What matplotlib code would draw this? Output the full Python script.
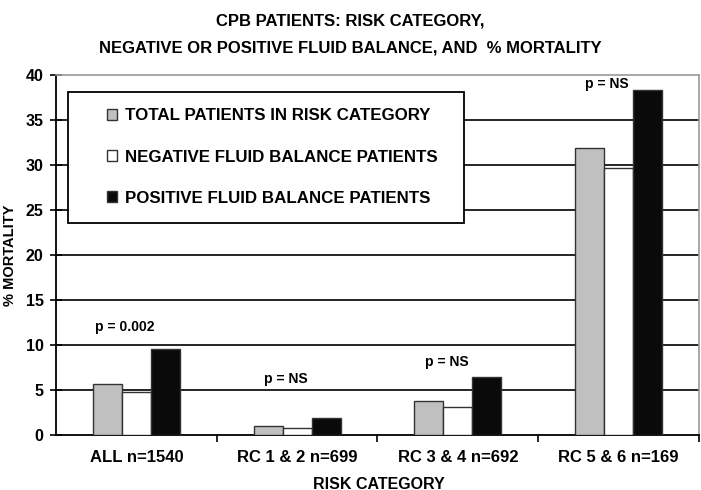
import numpy as np
import matplotlib as mp
mp.use('Agg')
import matplotlib.pyplot as plt
from matplotlib.patches import Rectangle

plt.rcParams['font.family'] = ['Liberation Sans', 'DejaVu Sans']
plt.rcParams['font.weight'] = 'bold'

categories = ['ALL n=1540', 'RC 1 & 2 n=699', 'RC 3 & 4 n=692', 'RC 5 & 6 n=169']
total_pts = [5.7, 1.05, 3.8, 31.9]
neg_fluid = [4.8, 0.8, 3.1, 29.7]
pos_fluid = [9.6, 1.85, 6.4, 38.3]
p_labels = ['p = 0.002', 'p = NS', 'p = NS', 'p = NS']
p_y = [12.0, 6.2, 8.1, 39.0]
series_names = ['TOTAL PATIENTS IN RISK CATEGORY',
                'NEGATIVE FLUID BALANCE PATIENTS',
                'POSITIVE FLUID BALANCE PATIENTS']

fig = plt.figure(figsize=(7.01, 4.90), dpi=100)
ax = fig.add_axes([0.080, 0.112, 0.917, 0.735])

x = np.arange(len(categories)) + 0.5
w = 0.18
edge = '#333333'
b1 = ax.bar(x - w, total_pts, w, color='#c0c0c0', edgecolor=edge, lw=1.0, zorder=3)
b2 = ax.bar(x, neg_fluid, w, color='white', edgecolor=edge, lw=1.0, zorder=3)
b3 = ax.bar(x + w, pos_fluid, w, color='#0a0a0a', edgecolor=edge, lw=1.0, zorder=3)

for xi, lab, yi in zip(x, p_labels, p_y):
    ax.text(xi - 0.07, yi, lab, ha='center', va='center', fontsize=10,
            fontweight='bold', zorder=4)

ax.set_xlim(0, 4)
ax.set_ylim(0, 40)
ax.set_yticks(np.arange(0, 41, 5))
for gy in range(5, 40, 5):
    ax.axhline(gy, color='black', lw=1.2, zorder=1)

ax.set_xticks(x)
ax.set_xticklabels(categories, fontsize=12, fontweight='bold')
ax.set_xticks([1, 2, 3, 4], minor=True)
ax.tick_params(axis='x', which='major', length=0, pad=11)
ax.tick_params(axis='x', which='minor', length=5, width=1.2, direction='out')
ax.tick_params(axis='y', labelsize=11.5, length=8, width=1.2, pad=5,
               direction='inout')
for t in ax.get_yticklabels():
    t.set_fontweight('bold')

for s in ['left', 'bottom']:
    ax.spines[s].set_color('black')
    ax.spines[s].set_linewidth(1.3)
for s in ['top', 'right']:
    ax.spines[s].set_color('#999999')
    ax.spines[s].set_linewidth(1.2)

ax.set_ylabel('% MORTALITY', fontsize=10.5, fontweight='bold', labelpad=6)
fig.text(0.54, 0.003, 'RISK CATEGORY', ha='center', va='baseline',
         fontsize=11.5, fontweight='bold')

fig.text(0.5, 0.958, 'CPB PATIENTS: RISK CATEGORY,', ha='center', va='center',
         fontsize=12, fontweight='bold')
fig.text(0.5, 0.903, 'NEGATIVE OR POSITIVE FLUID BALANCE, AND  % MORTALITY',
         ha='center', va='center', fontsize=12, fontweight='bold')

# legend box
fig.patches.append(Rectangle((68 / 701, 1 - 223 / 490), 396 / 701, 131 / 490,
                             transform=fig.transFigure, facecolor='white',
                             edgecolor='black', lw=1.3, zorder=5))
leg = fig.legend([b1, b2, b3], series_names, loc='upper left',
                 bbox_to_anchor=(92 / 701, 1 - 93 / 490), frameon=False,
                 handlelength=0.6, handleheight=0.6,
                 handletextpad=0.45, labelspacing=1.55,
                 prop={'weight': 'bold', 'size': 12.2})
leg.set_zorder(6)

plt.savefig('out.png', dpi=100)
